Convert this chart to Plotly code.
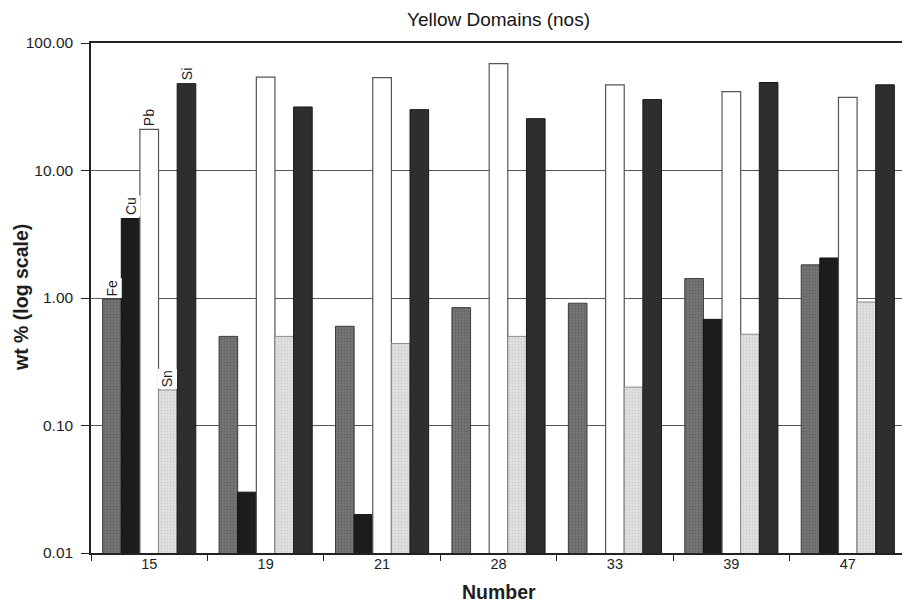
import math
import plotly.graph_objects as go

categories = ["15", "19", "21", "28", "33", "39", "47"]
fe = [0.98, 0.50, 0.60, 0.84, 0.91, 1.42, 1.82]
cu = [4.2, 0.030, 0.020, None, None, 0.68, 2.06]
pb = [21.0, 54.0, 53.5, 69.0, 47.0, 41.5, 37.5]
sn = [0.19, 0.50, 0.44, 0.50, 0.20, 0.52, 0.93]
si = [48.0, 31.5, 30.0, 25.5, 36.0, 49.0, 47.0]
series_names = ["Fe", "Cu", "Pb", "Sn", "Si"]
tick_vals = [0.01, 0.1, 1, 10, 100]
tick_text = ["0.01", "0.10", "1.00", "10.00", "100.00"]

FONT = "Liberation Sans, Arial, sans-serif"
W, H = 902, 597          # page body adds an 8px offset
ML, MR, MT, MB = 83, 2, 35, 52
BARGAP = 0.2
TXT = "#1e1e1e"

styles = {
    "Fe": dict(color="#6e6e6e", line=dict(color="#3a3a3a", width=1),
               pattern=dict(shape=".", fgcolor="#4a4a4a", bgcolor="#767676", size=3, solidity=0.3)),
    "Cu": dict(color="#1c1c1c", line=dict(color="#111111", width=1)),
    "Pb": dict(color="#ffffff", line=dict(color="#555555", width=1.2)),
    "Sn": dict(color="#dcdcdc", line=dict(color="#8a8a8a", width=1),
               pattern=dict(shape=".", fgcolor="#b4b4b4", bgcolor="#e2e2e2", size=3, solidity=0.3)),
    "Si": dict(color="#2e2e2e", line=dict(color="#1a1a1a", width=1)),
}
data = {"Fe": fe, "Cu": cu, "Pb": pb, "Sn": sn, "Si": si}

fig = go.Figure()
for name in series_names:
    fig.add_trace(go.Bar(x=categories, y=data[name], name=name, marker=styles[name]))

# labels above first group's bars (x given as category index 0)
plot_w = W - ML - MR
group_w = plot_w / len(categories)
bar_w = group_w * (1 - BARGAP) / len(series_names)
for i, name in enumerate(series_names):
    v = data[name][0]
    fig.add_annotation(
        x=0, y=math.log10(v), xref="x", yref="y",
        text=name, textangle=-90, showarrow=False,
        xshift=(i - (len(series_names) - 1) / 2) * bar_w,
        yanchor="bottom", yshift=1,
        bgcolor="white", borderpad=1,
        font=dict(family=FONT, size=14, color=TXT),
    )

# axis titles
fig.add_annotation(text="<b>wt % (log scale)</b>", xref="paper", yref="paper",
                   x=0, y=0.5, xanchor="center", yanchor="middle", xshift=-70,
                   textangle=-90, showarrow=False,
                   font=dict(family=FONT, size=19.5, color=TXT))
fig.add_annotation(text="<b>Number</b>", xref="paper", yref="paper",
                   x=0.5, y=0, xanchor="center", yanchor="middle", yshift=-39,
                   showarrow=False,
                   font=dict(family=FONT, size=19.5, color=TXT))

fig.update_layout(
    width=W, height=H,
    margin=dict(l=ML, r=MR, t=MT, b=MB),
    paper_bgcolor="white", plot_bgcolor="white",
    barmode="group", bargap=BARGAP, bargroupgap=0,
    showlegend=False,
    font=dict(family=FONT, color=TXT),
    title=dict(text="Yellow Domains (nos)", x=0.5, xref="paper", xanchor="center",
               y=1 - 11 / H, yref="container", yanchor="middle",
               font=dict(family=FONT, size=19, color="#151515")),
)
fig.update_yaxes(
    type="log", range=[-2, 2],
    tickvals=tick_vals, ticktext=tick_text,
    tickfont=dict(family=FONT, size=15.5, color=TXT),
    ticks="outside", ticklen=8, tickcolor="#222222", ticklabelstandoff=5,
    showline=True, linecolor="#222222", linewidth=1.5, mirror=True,
    showgrid=True, gridcolor="#555555", gridwidth=1,
    zeroline=False,
)
fig.update_xaxes(
    type="category", range=[-0.5, len(categories) - 0.5],
    tickfont=dict(family=FONT, size=14.5, color=TXT),
    ticks="outside", ticklen=6, tickcolor="#222222", tickson="boundaries",
    ticklabelstandoff=-3,
    showline=True, linecolor="#222222", linewidth=1.5, mirror=True,
    showgrid=False,
)

fig.write_html("out.html")
